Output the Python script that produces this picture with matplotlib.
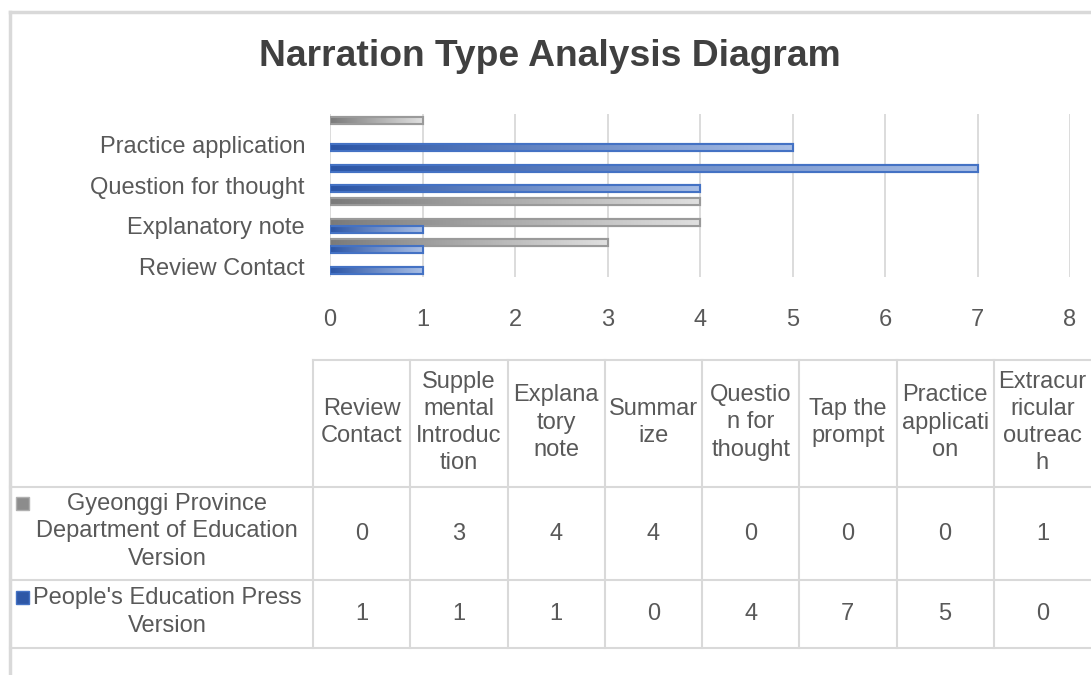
import numpy as np
import matplotlib
matplotlib.use("Agg")
import matplotlib.pyplot as plt
from matplotlib.lines import Line2D
from matplotlib.patches import Rectangle
from matplotlib.colors import LinearSegmentedColormap

plt.rcParams['font.family'] = ['Liberation Sans', 'DejaVu Sans']

# ---- data ----
categories = ["Review Contact", "Supplemental Introduction", "Explanatory note",
              "Summarize", "Question for thought", "Tap the prompt",
              "Practice application", "Extracurricular outreach"]
header_labels = ["Review\nContact", "Supple\nmental\nIntroduc\ntion", "Explana\ntory\nnote",
                 "Summar\nize", "Questio\nn for\nthought", "Tap the\nprompt",
                 "Practice\napplicati\non", "Extracur\nricular\noutreac\nh"]
gyeonggi = [0, 3, 4, 4, 0, 0, 0, 1]
pep = [1, 1, 1, 0, 4, 7, 5, 0]
series_labels = ["Gyeonggi Province\nDepartment of Education\nVersion",
                 "People's Education Press\nVersion"]
x_ticks = list(range(0, 9))
title = "Narration Type Analysis Diagram"

W, H = 1091, 675
TXT = '#595959'
LINE = '#D9D9D9'
FS = 17
LS = 1.31

fig = plt.figure(figsize=(W / 100, H / 100), dpi=100)


def fx(x):
    return x / W


def fy(y):
    return 1 - y / H


def hline(y, x0, x1, lw=1.5):
    fig.add_artist(Line2D([fx(x0), fx(x1)], [fy(y), fy(y)], color=LINE, lw=lw,
                          transform=fig.transFigure))


def vline(x, y0, y1, lw=1.5):
    fig.add_artist(Line2D([fx(x), fx(x)], [fy(y0), fy(y1)], color=LINE, lw=lw,
                          transform=fig.transFigure))


# outer frame
hline(12, 10, W, lw=2.5)
vline(10, 12, H, lw=2.5)

fig.text(fx(550), fy(57), title, ha='center', va='center', fontsize=26.8,
         fontweight='bold', color='#404040')

# ---- bar chart ----
top, bottom = 113.8, 276.7
ax = fig.add_axes([fx(330), fy(bottom), fx(1070) - fx(330), (bottom - top) / H])

y = np.arange(len(categories))
h = 0.35
styles = [
    (gyeonggi, y + h / 2, '#7A7A7A', '#E0E0E0', '#9A9A9A'),
    (pep, y - h / 2, '#2B55A6', '#A9BFE6', '#4472C4'),
]
for vals, pos, c0, c1, ec in styles:
    bars = ax.barh(pos, vals, height=h, color=c0, edgecolor=ec,
                   linewidth=[1.5 if v > 0 else 0 for v in vals], zorder=3)
    cmap = LinearSegmentedColormap.from_list('g', [c0, c1])
    for b in bars:
        if b.get_width() <= 0:
            continue
        im = ax.imshow(np.linspace(0, 1, 256)[None, :], cmap=cmap, aspect='auto',
                       extent=[b.get_x(), b.get_x() + b.get_width(),
                               b.get_y(), b.get_y() + b.get_height()],
                       zorder=3.5, origin='lower')
        im.set_clip_path(b)
        ax.add_patch(Rectangle((b.get_x(), b.get_y()), b.get_width(), b.get_height(),
                               fc='none', ec=ec, lw=1.5, zorder=4))

ax.set_xlim(0, 8)
ax.set_ylim(-0.5, len(categories) - 0.5)
ax.set_xticks(x_ticks)
ax.set_xticklabels([str(t) for t in x_ticks])
ax.set_yticks(y)
ax.set_yticklabels([c if i % 2 == 0 else '' for i, c in enumerate(categories)])
ax.grid(axis='x', color=LINE, lw=1.3, zorder=0)
ax.set_axisbelow(True)
for s in ax.spines.values():
    s.set_visible(False)
ax.tick_params(axis='x', length=0, pad=23, labelsize=FS, labelcolor=TXT)
ax.tick_params(axis='y', length=0, pad=18, labelsize=FS, labelcolor=TXT)
ax.set_facecolor('none')

# ---- data table ----
t_left = 313
col_w = (W - t_left) / len(categories)
rows_y = [360, 487, 580, 648]

hline(rows_y[0], t_left, W)
for yy in rows_y[1:]:
    hline(yy, 10, W)
for i in range(len(categories)):
    vline(t_left + i * col_w, rows_y[0], rows_y[-1])

for i, lab in enumerate(header_labels):
    cx = t_left + (i + 0.5) * col_w
    fig.text(fx(cx), fy((rows_y[0] + rows_y[1]) / 2 - 1), lab, ha='center', va='center',
             fontsize=FS, color=TXT, linespacing=LS)
    for r, vals in enumerate([gyeonggi, pep]):
        fig.text(fx(cx), fy((rows_y[r + 1] + rows_y[r + 2]) / 2), str(vals[i]),
                 ha='center', va='center', fontsize=FS, color=TXT)

key_cols = [('#8C8C8C', '#B0B0B0'), ('#2E57A6', '#4472C4')]
key_y = [497, 591]
for r, lab in enumerate(series_labels):
    fig.text(fx(167), fy((rows_y[r + 1] + rows_y[r + 2]) / 2 - 2), lab, ha='center',
             va='center', fontsize=FS, color=TXT, linespacing=LS)
    fc, ec = key_cols[r]
    fig.add_artist(Rectangle((fx(16), fy(key_y[r] + 13)), 13 / W, 13 / H, fc=fc, ec=ec,
                             lw=1, transform=fig.transFigure))

fig.savefig('out.png', dpi=100)
